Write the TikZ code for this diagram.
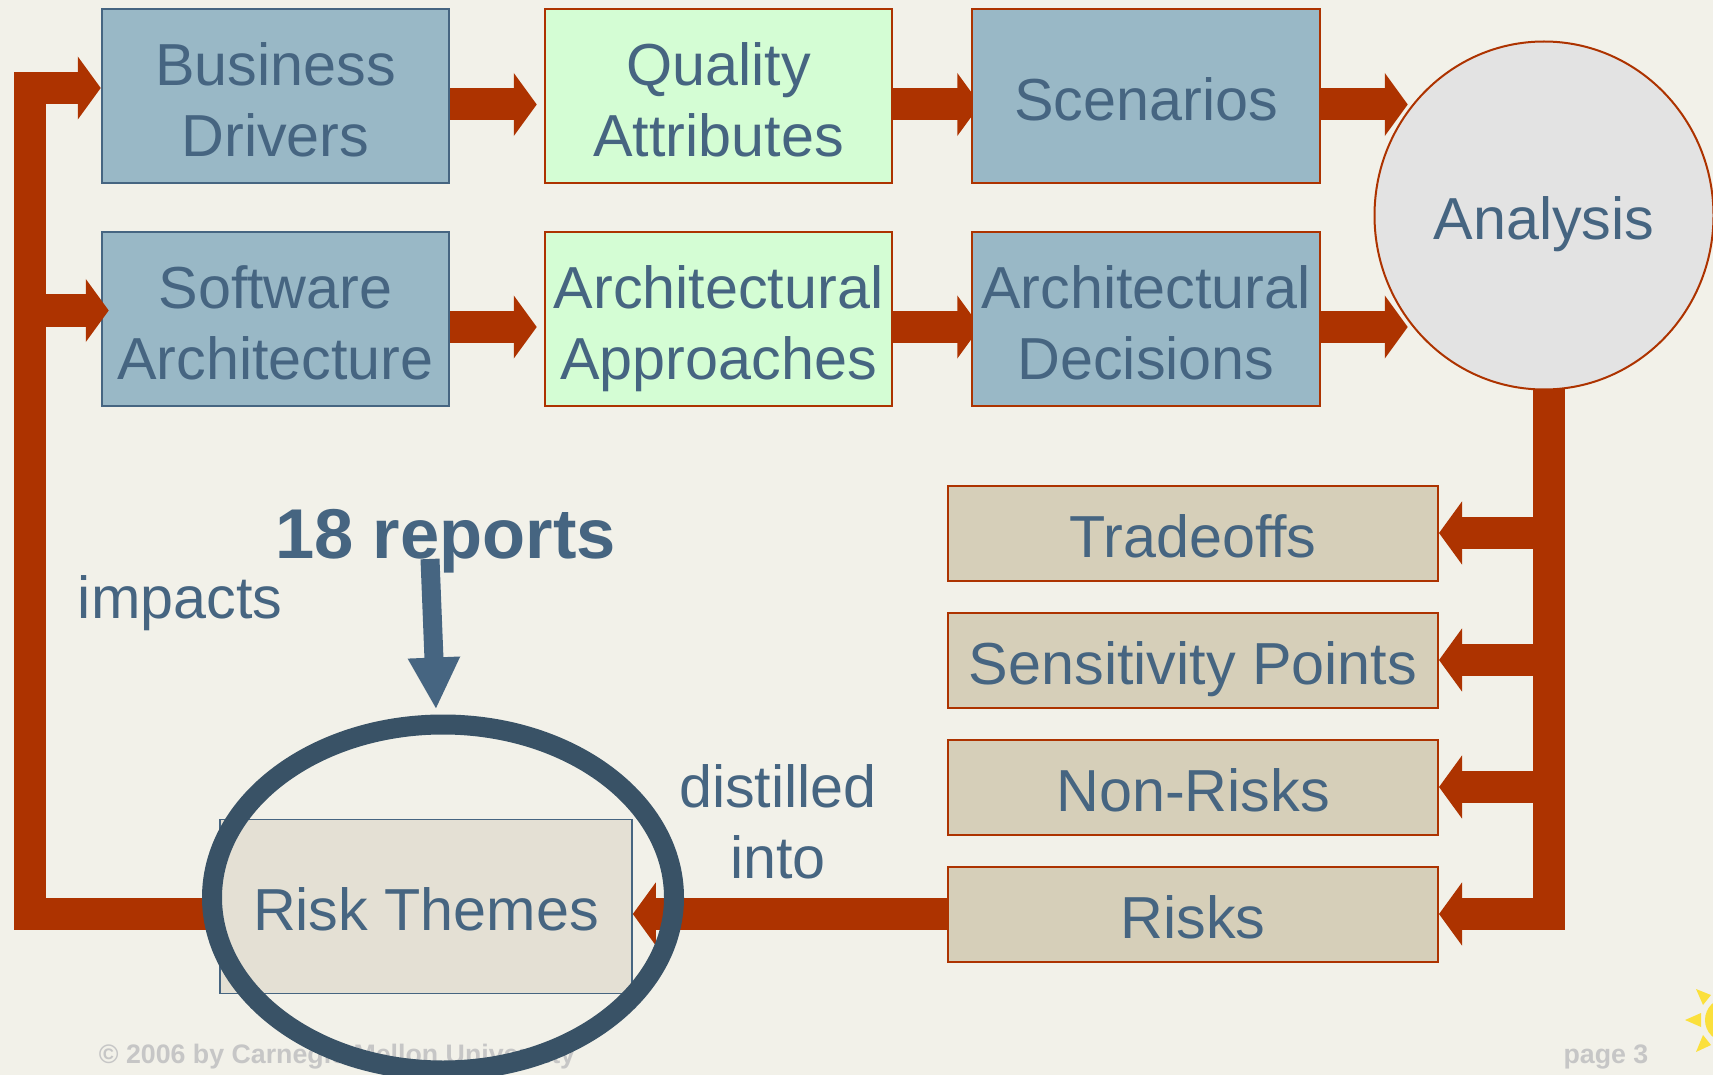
\documentclass[tikz,border=0pt]{standalone}
\usepackage{fontspec}
\setmainfont{Liberation Sans}
\usetikzlibrary{arrows.meta,shapes.geometric,backgrounds}
\definecolor{bgpage}{HTML}{F2F1E9}
\definecolor{slate}{HTML}{466581}
\definecolor{rust}{HTML}{AD3300}
\definecolor{bluebox}{HTML}{99B8C6}
\definecolor{greenbox}{HTML}{D4FDD4}
\definecolor{tanbox}{HTML}{D6CFB9}
\definecolor{paletan}{HTML}{E4E0D4}
\definecolor{ringblue}{HTML}{395266}
\definecolor{footgrey}{HTML}{C6C6C6}
\definecolor{sunny}{HTML}{FBE03C}
\definecolor{discgrey}{HTML}{E3E3E3}
\tikzset{
  lbl/.style={text=slate,font=\fontsize{59.3}{71}\selectfont,align=center,inner sep=0pt,
    execute at begin node=\rule{0pt}{65pt},execute at end node=\rule[-17pt]{0pt}{17pt}},
  twoline/.style={execute at begin node=\rule{0pt}{138pt}},
  bigbox/.style={lbl,draw,line width=2pt,minimum width=347.5pt,minimum height=174pt},
  tanitem/.style={bigbox,draw=rust,fill=tanbox,minimum width=490pt,minimum height=95pt},
  flow/.style={draw=rust,line width=32pt,-{Triangle[length=23pt,width=62pt]},color=rust},
  trunk/.style={draw=rust,line width=32pt},
  foot/.style={text=footgrey,font=\bfseries\fontsize{26.75}{30}\selectfont}
}
\begin{document}
\begin{tikzpicture}[x=1pt,y=-1pt]
  \clip (0,0) rectangle (1713,1075);
  \begin{scope}[on background layer]
    \fill[bgpage] (0,0) rectangle (1713,1075);
  \end{scope}

  % Footer and sun
  \node[foot] (copy) at (337,1057) {© 2006 by Carnegie Mellon University};
  \node[foot] (page) at (1606,1057) {page 3};
  \fill[sunny] (1727,1020) circle (22);
  \fill[sunny] (1685,1020) -- (1701,1013) -- (1701,1027) -- cycle;
  \fill[sunny] (1696,989) -- (1711,995) -- (1703,1005) -- cycle;
  \fill[sunny] (1696,1052) -- (1711,1045) -- (1703,1035) -- cycle;

  % Upper rows
  \node[bigbox,twoline,draw=slate,fill=bluebox] (drivers) at (275.5,96.5) {Business\\Drivers};
  \node[bigbox,twoline,draw=rust,fill=greenbox] (quality) at (718.5,96.5) {Quality\\Attributes};
  \node[bigbox,draw=rust,fill=bluebox] (scenarios) at (1146,96.5) {Scenarios};
  \node[bigbox,twoline,draw=slate,fill=bluebox] (software) at (275.5,319) {Software\\Architecture};
  \node[bigbox,twoline,draw=rust,fill=greenbox] (approaches) at (718.5,319) {Architectural\\Approaches};
  \node[bigbox,twoline,draw=rust,fill=bluebox] (decisions) at (1146,319) {Architectural\\Decisions};

  % Output boxes
  \foreach \name/\ypos/\txt in {tradeoffs/533/Tradeoffs,sensitivity/660/Sensitivity Points,nonrisks/787/Non-Risks,risks/914/Risks} {
    \node[tanitem] (\name) at (1193,\ypos) {\txt};
  }
  \node[bigbox,line width=1.6pt,draw=slate,fill=paletan,minimum width=412pt] (themes) at (426,906.5) {Risk Themes};

  % Arrows along the rows
  \begin{scope}[on background layer]
    \foreach \from/\to in {quality/scenarios,approaches/decisions} {
      \draw[flow,shorten >=-9pt] ([yshift=-8pt]\from.east) -- ([yshift=-8pt]\to.west);
    }
  \end{scope}
  \foreach \from/\to in {drivers/quality,software/approaches} {
    \draw[flow,shorten >=7pt] ([yshift=-8pt]\from.east) -- ([yshift=-8pt]\to.west);
  }
  \draw[flow] ([yshift=-8pt]scenarios.east) -- ++(87,0);
  \draw[flow] ([yshift=-8pt]decisions.east) -- ++(87,0);

  % Trunk down from analysis
  \coordinate (trunktop) at (1549,380);
  \coordinate (trunkend) at (1549,930);
  \draw[trunk] (trunktop) -- (trunkend);
  \foreach \name in {tradeoffs,sensitivity,nonrisks,risks} {
    \draw[flow] (\name.east -| trunktop) -- (\name.east);
  }
  \node[ellipse,lbl,draw=rust,line width=2pt,fill=discgrey,minimum width=339pt,minimum height=348pt] (analysis) at (1544,215.5) {Analysis};

  % Feedback
  \coordinate (backstart) at (210,914);
  \coordinate (backlow) at (30,914);
  \coordinate (backtop) at (30,88);
  \draw[flow] (risks.west) -- (risks.west -| themes.east);
  \draw[flow,line join=miter] (backstart) -- (backlow) -- (backtop) -- ([yshift=8.5pt]drivers.west);
  \draw[flow,shorten >=-8pt] ([yshift=8.5pt]software.west -| backtop) -- ([yshift=8.5pt]software.west);

  % Labels
  \node[lbl] (impacts) at (180,594.5) {impacts};
  \node[lbl,twoline] (distilled) at (778,818.4) {distilled\\into};
  \node[text=slate,font=\bfseries\fontsize{70.5}{80}\selectfont] (reports) at (445.5,541.5) {18 reports};

  % Highlight
  \node[ellipse,draw=ringblue,line width=20pt,minimum width=462pt,minimum height=346pt,inner sep=0pt] (ring) at (443,897.5) {};
  \draw[slate,line width=19pt,-{Triangle[length=52pt,width=48.5pt]}] ([xshift=-15.5pt,yshift=18pt]reports.south) -- ([xshift=-7pt,yshift=5pt]ring.north);
\end{tikzpicture}
\end{document}
